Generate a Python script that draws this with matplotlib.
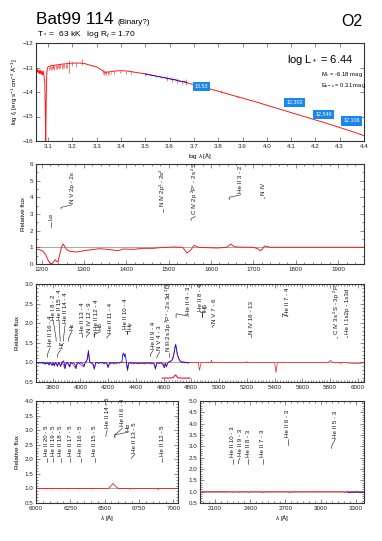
import matplotlib
matplotlib.use("Agg")
import matplotlib.pyplot as plt
from matplotlib.ticker import MultipleLocator

plt.rcParams['font.family'] = ['Liberation Sans', 'DejaVu Sans']
plt.rcParams['mathtext.fontset'] = 'custom'
plt.rcParams['mathtext.rm'] = 'Liberation Sans'
plt.rcParams['mathtext.it'] = 'Liberation Sans:italic'
plt.rcParams['mathtext.bf'] = 'Liberation Sans:bold'

# ---------------- data ----------------
# Panel 1: SED (log lambda, log f_lambda)
sed_logwl = [3.050, 3.053, 3.056, 3.059, 3.062, 3.065, 3.068, 3.071, 3.074, 3.077, 3.080, 3.083,
             3.086, 3.088, 3.090, 3.092, 3.094, 3.097, 3.100, 3.110, 3.130, 3.160, 3.200, 3.230,
             3.250, 3.270, 3.300, 3.320, 3.335, 3.350, 3.380, 3.400, 3.430, 3.460, 3.500, 3.550,
             3.600, 3.650, 3.700, 3.750, 3.800, 3.850, 3.900, 3.950, 4.000, 4.050, 4.100, 4.150,
             4.200, 4.250, 4.300, 4.350, 4.400]
sed_logf = [-13.10, -13.18, -13.08, -13.22, -13.10, -13.25, -13.12, -13.28, -13.14, -13.30, -13.16, -13.35,
            -13.60, -14.60, -16.00, -14.40, -13.30, -13.02, -12.97, -12.93, -12.90, -12.86, -12.82, -12.82,
            -12.84, -12.90, -12.98, -13.10, -13.20, -13.18, -13.14, -13.13, -13.15, -13.20, -13.26, -13.36,
            -13.46, -13.57, -13.70, -13.83, -13.97, -14.11, -14.25, -14.39, -14.54, -14.69, -14.84, -14.99,
            -15.14, -15.29, -15.45, -15.61, -15.78]
sed_spike_x = [3.102, 3.106, 3.110, 3.114, 3.118, 3.122, 3.126, 3.131, 3.135, 3.140, 3.145, 3.150,
               3.155, 3.160, 3.166, 3.172, 3.178, 3.187, 3.200, 3.215, 3.238, 3.325, 3.330, 3.335,
               3.340, 3.345, 3.352, 3.360, 3.372, 3.395, 3.420, 3.440, 3.500, 3.590, 3.610, 3.630,
               3.650, 3.668, 3.810, 3.880]
sed_spike_lo = [-13.10, -13.06, -13.12, -13.05, -13.08, -13.04, -13.09, -13.05, -13.07, -13.03, -13.06, -13.02,
                -13.05, -13.01, -13.03, -13.00, -13.02, -13.22, -12.95, -12.98, -12.90, -13.25, -13.30, -13.28,
                -13.32, -13.30, -13.28, -13.26, -13.25, -13.24, -13.25, -13.28, -13.36, -13.55, -13.60, -13.62,
                -13.68, -13.72, -14.04, -14.26]
sed_spike_hi = [-12.96, -12.95, -12.93, -12.92, -12.91, -12.91, -12.90, -12.89, -12.88, -12.88, -12.87, -12.87,
                -12.86, -12.86, -12.85, -12.85, -12.84, -12.68, -12.78, -12.80, -12.64, -13.12, -13.14, -13.15,
                -13.16, -13.16, -13.17, -13.17, -13.15, -13.13, -13.14, -13.16, -13.24, -13.36, -13.40, -13.44,
                -13.50, -13.45, -13.92, -14.18]
obs_sed_logwl = [3.500, 3.510, 3.520, 3.530, 3.540, 3.550, 3.560, 3.570, 3.580, 3.590, 3.600, 3.610,
                 3.620, 3.630, 3.640, 3.650, 3.660, 3.670]
obs_sed_logf = [-13.27, -13.28, -13.31, -13.32, -13.34, -13.38, -13.37, -13.42, -13.40, -13.46, -13.45, -13.50,
                -13.48, -13.53, -13.55, -13.58, -13.56, -13.62]
phot_logwl = [3.731, 4.114, 4.235, 4.350]
phot_logf = [-13.78, -14.43, -14.92, -15.18]
phot_mag = ["13.53", "12.302", "12.549", "12.106"]

# Panel 2: UV 1190-1960
uv_wl = [1187, 1196, 1204, 1210, 1216, 1220, 1224, 1228, 1232, 1236, 1239, 1243, 1247, 1251, 1255, 1259,
         1267, 1283, 1306, 1338, 1362, 1375, 1381, 1393, 1417, 1440, 1464, 1480, 1511, 1533, 1538, 1543,
         1548, 1553, 1560, 1570, 1614, 1637, 1642, 1647, 1652, 1660, 1700, 1710, 1716, 1720, 1726, 1740,
         1800, 1900, 1961]
uv_flux = [0.90, 0.85, 0.76, 0.55, 0.20, 0.05, 0.02, 0.10, 0.26, 0.15, 0.12, 0.56, 1.00, 1.20, 1.05, 0.86,
           0.76, 0.72, 0.82, 0.92, 0.86, 0.82, 0.80, 0.90, 0.88, 0.94, 0.94, 0.98, 1.02, 1.00, 0.85, 0.66,
           0.75, 0.86, 1.12, 1.00, 0.96, 1.00, 1.10, 1.20, 1.08, 1.02, 1.00, 0.92, 0.80, 0.85, 1.08, 1.00,
           1.00, 1.00, 1.00]
uv_lab_text = ["Lα", "N V 2p - 2s", "N IV 2p$^1$ - 2s$^2$", "C IV 2p $^2$P° - 2s $^2$S", "He II 3 - 2", "N IV"]
uv_lab_wl = [1222, 1246, 1487, 1553, 1643, 1724]
uv_lab_y0 = [2.20, 3.30, 3.12, 2.60, 3.85, 3.95]
uv_lab_y1 = [2.55, 3.40, 3.30, 2.72, 4.00, 4.05]
uv_lab_tx = [1222, 1272, 1487, 1563, 1670, 1724]
uv_lab_y2 = [2.55, 3.55, 3.30, 2.85, 4.15, 4.05]

# Panel 3: optical 3680-6045
opt_wl = [3680, 3700, 3720, 3750, 3760, 3770, 3780, 3795, 3800, 3810, 3820, 3835, 3845, 3858, 3870, 3889,
          3900, 3923, 3935, 3968, 3980, 4026, 4035, 4050, 4058, 4066, 4090, 4100, 4110, 4190, 4200, 4212,
          4300, 4330, 4340, 4350, 4530, 4541, 4550, 4596, 4604, 4612, 4620, 4630, 4660, 4675, 4686, 4698,
          4720, 4780, 4850, 4859, 4870, 4940, 4945, 4950, 5195, 5200, 5205, 5400, 5411, 5420, 5790, 5801,
          5812, 5820, 5870, 5876, 5882, 5950, 5990, 6020, 6045]
opt_flux = [1.00, 0.99, 1.00, 0.97, 1.00, 0.95, 1.00, 0.94, 1.00, 0.92, 1.00, 0.90, 1.00, 0.90, 1.00, 0.84,
            1.00, 0.88, 1.00, 0.84, 1.00, 0.88, 1.00, 1.08, 1.30, 1.00, 1.00, 0.82, 1.00, 1.00, 0.86, 1.00,
            1.00, 1.00, 0.78, 1.00, 1.00, 0.82, 1.00, 0.98, 0.86, 1.00, 0.88, 1.00, 1.05, 1.25, 1.47, 1.20,
            1.02, 1.00, 1.00, 0.80, 1.00, 1.00, 1.06, 1.00, 1.00, 1.02, 1.00, 1.00, 0.74, 1.00, 1.00, 1.05,
            1.03, 1.00, 1.00, 0.97, 1.00, 0.98, 0.97, 0.98, 0.99]
obs_wl = [3680, 3690, 3698, 3705, 3715, 3722, 3730, 3738, 3746, 3752, 3760, 3768, 3775, 3782, 3790, 3797,
          3805, 3813, 3820, 3828, 3835, 3842, 3850, 3858, 3866, 3875, 3880, 3889, 3896, 3905, 3915, 3923,
          3930, 3940, 3950, 3960, 3968, 3976, 3985, 3995, 4005, 4015, 4026, 4035, 4045, 4052, 4058, 4064,
          4070, 4080, 4090, 4101, 4110, 4120, 4130, 4140, 4150, 4160, 4170, 4180, 4190, 4200, 4210, 4220,
          4230, 4240, 4250, 4260, 4270, 4280, 4290, 4300, 4305, 4312, 4318, 4323, 4328, 4333, 4340, 4347,
          4355, 4365, 4375, 4385, 4395, 4405, 4415, 4425, 4435, 4445, 4455, 4465, 4475, 4485, 4495, 4505,
          4515, 4525, 4533, 4541, 4549, 4558, 4568, 4578, 4588, 4596, 4604, 4612, 4620, 4628, 4636, 4645,
          4655, 4665, 4672, 4678, 4684, 4688, 4693, 4700, 4708, 4716, 4725, 4735, 4745, 4755, 4765, 4775,
          4785]
obs_flux = [0.99, 1.00, 0.97, 1.00, 0.98, 1.01, 0.97, 1.00, 0.95, 1.00, 0.97, 0.99, 0.93, 1.00, 0.96, 0.92,
            0.99, 0.91, 0.99, 0.97, 0.90, 1.00, 0.97, 0.90, 1.01, 1.02, 1.04, 0.85, 0.98, 1.00, 0.97, 0.89,
            1.00, 0.98, 0.99, 0.95, 0.85, 0.99, 1.00, 0.97, 1.00, 0.97, 0.90, 1.00, 1.03, 1.12, 1.30, 1.10,
            1.00, 0.98, 0.95, 0.84, 0.98, 1.00, 0.97, 1.00, 0.98, 1.00, 0.96, 0.99, 0.97, 0.88, 0.99, 0.97,
            1.00, 0.96, 0.99, 0.97, 1.00, 0.98, 1.00, 1.02, 1.20, 1.24, 1.15, 1.22, 1.10, 0.98, 0.82, 0.97,
            1.00, 0.97, 0.99, 0.96, 0.99, 0.97, 0.98, 0.96, 0.99, 0.97, 0.98, 0.96, 0.99, 0.97, 0.99, 0.96,
            0.98, 0.97, 0.95, 0.84, 0.97, 0.99, 0.97, 1.00, 0.96, 0.94, 0.87, 0.97, 0.89, 0.98, 1.00, 1.02,
            1.04, 1.08, 1.16, 1.28, 1.42, 1.45, 1.35, 1.20, 1.10, 1.05, 1.02, 0.99, 1.01, 0.99, 1.00, 0.98,
            1.00]
res_wl = [4590, 4640, 4670, 4680, 4686, 4692, 4700, 4730, 4790]
res_flux = [0.60, 0.60, 0.61, 0.66, 0.68, 0.66, 0.61, 0.60, 0.60]
opt_lab_text = ["He II 16 - 4", "Hζ", "He I 8 - 2", "He II 15 - 4", "He II 14 - 4", "Hε", "He II 13 - 4",
                "N IV 12 - 9", "He II 12 - 4", "Hδ", "He II 11 - 4", "He II 10 - 4", "Hγ", "He II 9 - 4",
                "N V 4 - 3", "N III 2s 3p $^2$P° - 2s 3d $^2$D", "He II 4 - 3", "He II 8 - 4", "Hβ",
                "N V 7 - 6", "N IV 16 - 13", "He II 7 - 4", "C IV 3s $^2$S - 3p $^2$P°", "He I 1s2p - 1s3d"]
opt_lab_wl = [3762, 3834, 3825, 3854, 3878, 3914, 4015, 4046, 4095, 4099, 4191, 4336, 4336, 4504,
              4552, 4637, 4690, 4878, 4878, 4953, 5232, 5456, 5849, 5926]
opt_lab_y0 = [1.13, 1.13, 1.54, 1.54, 1.54, 1.54, 1.66, 1.64, 1.66, 1.66, 1.62, 1.72, 1.72, 1.15,
              1.11, 1.15, 2.14, 2.17, 2.17, 1.89, 1.64, 2.16, 1.62, 1.64]
opt_lab_y1 = [1.20, 1.20, 1.61, 1.61, 1.61, 1.61, 1.72, 1.68, 1.78, 1.71, 1.64, 1.81, 1.81, 1.20,
              1.15, 1.23, 2.24, 2.28, 2.28, 1.92, 1.69, 2.24, 1.66, 1.68]
opt_lab_tx = [3781, 3858, 3805, 3846, 3890, 3938, 4015, 4066, 4114, 4143, 4215, 4324, 4355, 4524,
              4572, 4637, 4781, 4866, 4895, 4967, 5232, 5497, 5849, 5926]
opt_lab_y2 = [1.37, 1.32, 2.05, 2.05, 1.96, 1.79, 1.72, 1.74, 1.78, 1.78, 1.72, 1.81, 1.81, 1.30,
              1.27, 1.23, 2.18, 2.28, 2.28, 1.96, 1.69, 2.16, 1.66, 1.68]

# Panel 4: red 6000-7035
red_wl = [6000, 6070, 6074, 6078, 6114, 6118, 6122, 6167, 6171, 6175, 6230, 6234, 6238, 6307, 6311, 6315,
          6402, 6406, 6410, 6500, 6527, 6545, 6562, 6580, 6600, 6679, 6683, 6687, 6887, 6891, 6895, 7035]
red_flux = [1.00, 1.00, 0.98, 1.00, 1.00, 0.98, 1.00, 1.00, 0.98, 1.00, 1.00, 0.98, 1.00, 1.00, 0.98, 1.00,
            1.00, 0.98, 1.00, 1.00, 1.00, 1.08, 1.17, 1.07, 1.00, 1.00, 0.97, 1.00, 1.00, 0.96, 1.00, 1.00]
red_lab_text = ["He II 20 - 5", "He II 19 - 5", "He II 18 - 5", "He II 17 - 5", "He II 16 - 5",
                "He II 15 - 5", "He II 14 - 5", "He II 6 - 4", "Hα", "He II 13 - 5", "He II 12 - 5"]
red_lab_wl = [6078, 6126, 6180, 6248, 6325, 6430, 6510, 6575, 6575, 6697, 6920]
red_lab_y0 = [1.91, 1.91, 1.91, 1.91, 1.91, 1.91, 2.78, 2.75, 2.75, 2.03, 1.91]
red_lab_y1 = [2.05, 2.05, 2.05, 2.05, 2.05, 2.05, 2.86, 2.84, 2.84, 2.05, 2.05]
red_lab_tx = [6078, 6126, 6180, 6248, 6325, 6430, 6519, 6631, 6672, 6721, 6920]
red_lab_y2 = [2.05, 2.05, 2.05, 2.05, 2.05, 2.05, 3.01, 3.07, 2.93, 2.17, 2.05]

# Panel 5: near UV 1972-3370
nuv_wl = [1972, 2050, 2055, 2060, 2100, 2249, 2253, 2257, 2303, 2307, 2311, 2382, 2386, 2390, 2507, 2511,
          2515, 2728, 2733, 2738, 2975, 2980, 2985, 3198, 3203, 3208, 3370]
nuv_flux = [1.00, 1.00, 0.97, 1.00, 1.00, 1.00, 0.97, 1.00, 1.00, 0.97, 1.00, 1.00, 0.96, 1.00, 1.00, 0.96,
            1.00, 1.00, 0.95, 1.00, 1.00, 1.02, 1.00, 1.00, 0.95, 1.00, 1.00]
nuv_obs1_wl = [2030, 2080, 2130, 2200]
nuv_obs1_flux = [1.01, 1.00, 1.01, 1.00]
nuv_obs2_wl = [3230, 3250, 3270, 3290, 3310, 3330, 3350, 3370]
nuv_obs2_flux = [0.98, 0.96, 0.98, 0.97, 0.99, 0.96, 0.98, 0.97]
nuv_lab_text = ["He II 10 - 3", "He II 9 - 3", "He II 8 - 3", "He II 7 - 3", "He II 6 - 3", "He II 5 - 3"]
nuv_lab_wl = [2251, 2299, 2384, 2507, 2720, 3095]
nuv_lab_y0 = [2.23, 2.23, 2.23, 2.23, 3.05, 2.90]
nuv_lab_y1 = [2.45, 2.34, 2.45, 2.45, 3.34, 3.02]
nuv_lab_tx = [2251, 2313, 2384, 2507, 2720, 3124]
nuv_lab_y2 = [2.45, 2.48, 2.45, 2.45, 3.34, 3.31]

# ---------------- figure ----------------
W, H = 382, 541
fig = plt.figure(figsize=(W / 100, H / 100), dpi=100)


def axes_px(l, t, r, b):
    return fig.add_axes([l / W, 1 - b / H, (r - l) / W, (b - t) / H])


TICK_FS = 4.5
LAB_FS = 4.5
ID_FS = 4.4
SPEC_RED = '#ff1a1a'


def style(ax, xmaj, xmin, ymaj, ymin):
    ax.xaxis.set_major_locator(MultipleLocator(xmaj))
    ax.yaxis.set_major_locator(MultipleLocator(ymaj))
    if xmin:
        ax.xaxis.set_minor_locator(MultipleLocator(xmin))
    if ymin:
        ax.yaxis.set_minor_locator(MultipleLocator(ymin))
    ax.tick_params(which='both', direction='in', top=True, right=True, labelsize=TICK_FS,
                   pad=2, width=0.4, color='#333333', labelcolor='#222222')
    ax.tick_params(which='major', length=3)
    ax.tick_params(which='minor', length=1.5)
    for s in ax.spines.values():
        s.set_linewidth(0.8)
        s.set_color('#333333')


def line_ids(ax, texts, wls, y0s, y1s, txs, y2s):
    for t, wl, y0, y1, tx, y2 in zip(texts, wls, y0s, y1s, txs, y2s):
        ax.plot([wl, wl, tx], [y0, y1, y2], color='#111111', lw=0.4)
        ax.annotate(t, xy=(tx, y2), xytext=(0, 1.2), textcoords='offset points', rotation=90,
                    ha='center', va='bottom', fontsize=ID_FS, color='#111111')


# Title texts
fig.text(36 / W, 1 - 24 / H, 'Bat99 114', fontsize=12.4, ha='left', va='baseline')
fig.text(117 / W, 1 - 23.5 / H, '(Binary?)', fontsize=5.8, ha='left', va='baseline')
fig.text(37 / W, 1 - 35.5 / H, r'T$_*$ =  63 kK   log R$_t$ = 1.70', fontsize=6.0, ha='left', va='baseline')
fig.text(362 / W, 1 - 26 / H, 'O2', fontsize=11.5, ha='right', va='baseline')

# Panel 1
ax1 = axes_px(36, 43, 364, 141)
ax1.plot(sed_logwl, sed_logf, color=SPEC_RED, lw=0.7, zorder=2)
ax1.vlines(sed_spike_x, sed_spike_lo, sed_spike_hi, color=SPEC_RED, lw=0.4, zorder=2)
ax1.plot(obs_sed_logwl, obs_sed_logf, color='#1010ee', lw=0.6, zorder=3)
for lx, ly, m in zip(phot_logwl, phot_logf, phot_mag):
    ax1.text(lx, ly, m, fontsize=3.9, color='white', ha='center', va='center', zorder=4,
             bbox=dict(boxstyle='square,pad=0.4', fc='#1a86f0', ec='none'))
ax1.set_xlim(3.05, 4.40)
ax1.set_ylim(-16, -12)
style(ax1, 0.1, None, 1, None)
ax1.set_xlabel(r'log $\lambda$ [Å]', fontsize=LAB_FS, labelpad=1.5)
ax1.set_ylabel(r'log $f_\lambda$ [erg s$^{-1}$ cm$^{-2}$ Å$^{-1}$]', fontsize=LAB_FS, labelpad=2)
ax1.text(0.968, 0.80, r'log L$_*$ = 6.44', transform=ax1.transAxes, fontsize=8, ha='right', va='baseline')
ax1.text(0.87, 0.66, r'M$_v$ = -6.18 mag', transform=ax1.transAxes, fontsize=4.2, ha='left', va='baseline')
ax1.text(0.87, 0.55, r'E$_{b-v}$ = 0.31 mag', transform=ax1.transAxes, fontsize=4.2, ha='left', va='baseline')

# Panel 2
ax2 = axes_px(36, 164, 364, 264)
ax2.axhline(1.0, color='#999999', lw=0.6, zorder=1)
ax2.plot(uv_wl, uv_flux, color=SPEC_RED, lw=0.7, zorder=2)
line_ids(ax2, uv_lab_text, uv_lab_wl, uv_lab_y0, uv_lab_y1, uv_lab_tx, uv_lab_y2)
ax2.set_xlim(1187, 1961)
ax2.set_ylim(0, 6)
style(ax2, 100, 20, 1, 0.5)
ax2.set_ylabel('Relative flux', fontsize=LAB_FS, labelpad=3)

# Panel 3
ax3 = axes_px(36, 284, 364, 382)
ax3.axhline(1.0, color='#999999', lw=0.6, zorder=1)
ax3.plot(opt_wl, opt_flux, color=SPEC_RED, lw=0.5, zorder=2)
ax3.plot(obs_wl, obs_flux, color='#1010ee', lw=0.6, zorder=3)
ax3.plot(res_wl, res_flux, color='#ee1040', lw=0.8, zorder=3)
line_ids(ax3, opt_lab_text, opt_lab_wl, opt_lab_y0, opt_lab_y1, opt_lab_tx, opt_lab_y2)
ax3.set_xlim(3680, 6045)
ax3.set_ylim(0.5, 3.0)
style(ax3, 200, 20, 0.5, 0.1)
ax3.set_ylabel('Relative flux', fontsize=LAB_FS, labelpad=3)

# Panel 4
ax4 = axes_px(36, 401, 178, 503)
ax4.axhline(1.0, color='#999999', lw=0.6, zorder=1)
ax4.plot(red_wl, red_flux, color=SPEC_RED, lw=0.6, zorder=2)
line_ids(ax4, red_lab_text, red_lab_wl, red_lab_y0, red_lab_y1, red_lab_tx, red_lab_y2)
ax4.set_xlim(6000, 7035)
ax4.set_ylim(0.5, 4.0)
style(ax4, 250, 50, 0.5, 0.1)
ax4.set_ylabel('Relative flux', fontsize=LAB_FS, labelpad=3)
ax4.set_xlabel(r'$\lambda$ [Å]', fontsize=LAB_FS, labelpad=1.5)

# Panel 5
ax5 = axes_px(200, 401, 364, 503)
ax5.axhline(1.0, color='#999999', lw=0.6, zorder=1)
ax5.plot(nuv_obs1_wl, nuv_obs1_flux, color='#7fcfcf', lw=0.6, zorder=2)
ax5.plot(nuv_wl, nuv_flux, color=SPEC_RED, lw=0.6, zorder=3)
ax5.plot(nuv_obs2_wl, nuv_obs2_flux, color='#1010ee', lw=0.6, zorder=3)
line_ids(ax5, nuv_lab_text, nuv_lab_wl, nuv_lab_y0, nuv_lab_y1, nuv_lab_tx, nuv_lab_y2)
ax5.set_xlim(1972, 3370)
ax5.set_ylim(0.5, 5.0)
style(ax5, 300, 50, 0.5, 0.1)
ax5.set_xlabel(r'$\lambda$ [Å]', fontsize=LAB_FS, labelpad=1.5)

fig.savefig('out.png', dpi=100)
